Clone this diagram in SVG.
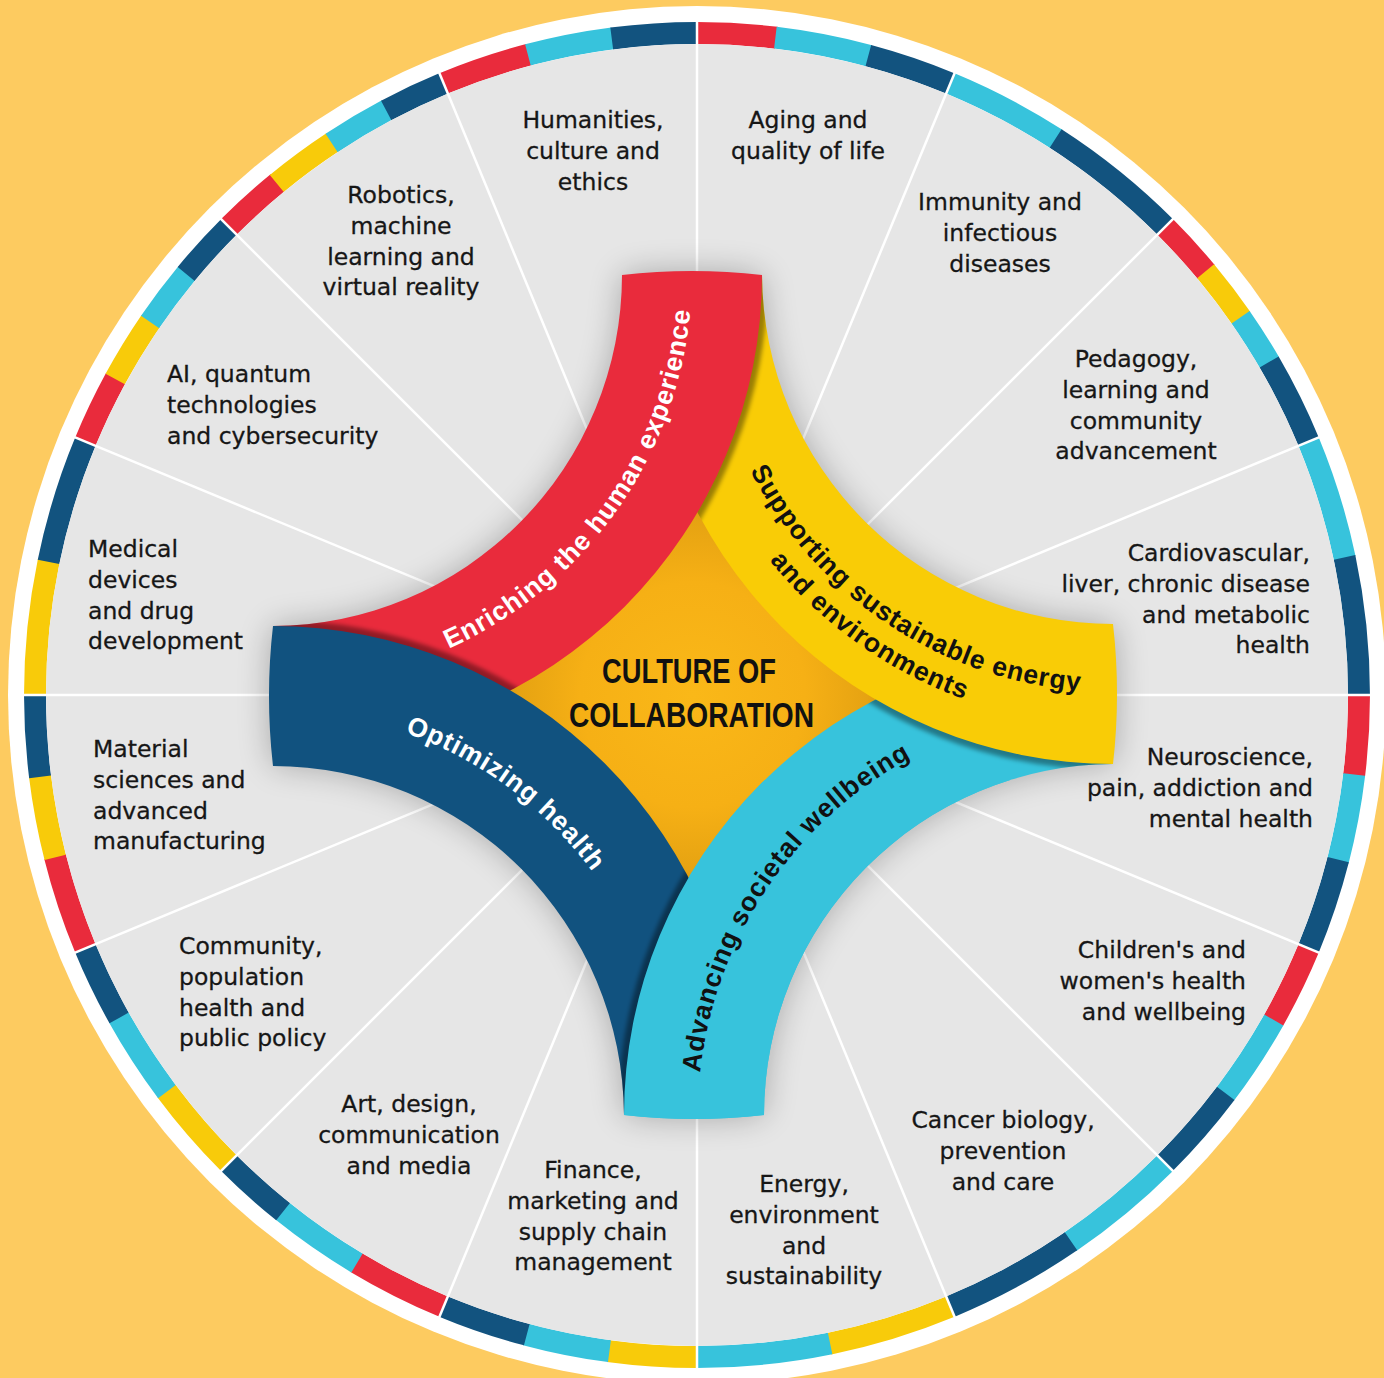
<svg xmlns="http://www.w3.org/2000/svg" width="1384" height="1378" viewBox="0 0 1384 1378">
<defs>
<style>
.lbl{font-family:"DejaVu Sans","Liberation Sans",sans-serif;font-size:23.5px;fill:#161616;stroke:#161616;stroke-width:0.3px}
.bt{font-family:"Liberation Sans",Arial,sans-serif;font-weight:bold;font-size:26.5px;letter-spacing:0.9px}
.w{fill:#ffffff}
.k{fill:#111111}
.seg{fill:none;stroke-width:22}
.r{stroke:#e92b3c}
.c{stroke:#37c3dc}
.n{stroke:#12537f}
.y{stroke:#f8cb0a}
.div line{stroke:#ffffff;stroke-width:2.5}
.title{font-family:"Liberation Sans",Arial,sans-serif;font-weight:bold;font-size:35px;fill:#111111}
.strip{fill:none;stroke:#000000;stroke-opacity:0.38;stroke-width:12}
</style>
<radialGradient id="og" cx="693" cy="695" r="205" gradientUnits="userSpaceOnUse">
<stop offset="0" stop-color="#fab818"/>
<stop offset="0.55" stop-color="#f6b015"/>
<stop offset="0.85" stop-color="#e6a312"/>
<stop offset="1" stop-color="#c98f0c"/>
</radialGradient>
<filter id="blur" x="-20%" y="-20%" width="140%" height="140%"><feGaussianBlur stdDeviation="16"/></filter>
<filter id="sblur" x="-5%" y="-5%" width="110%" height="110%"><feGaussianBlur stdDeviation="2"/></filter>
<path id="pRed" d="M622,275 A615,615 0 0 1 762,275 A469,469 0 0 1 293,744 L273,626 A351,351 0 0 0 622,275 Z"/>
<path id="pYel" d="M1113,624 A615,615 0 0 1 1113,764 A469,469 0 0 1 644,295 L762,275 A351,351 0 0 0 1113,624 Z"/>
<path id="pCya" d="M764,1115 A615,615 0 0 1 624,1115 A469,469 0 0 1 1093,646 L1113,764 A351,351 0 0 0 764,1115 Z"/>
<path id="pBlu" d="M273,766 A615,615 0 0 1 273,626 A469,469 0 0 1 742,1095 L624,1115 A351,351 0 0 0 273,766 Z"/>
<clipPath id="cRed"><path d="M622,275 A615,615 0 0 1 762,275 A469,469 0 0 1 293,744 L273,626 A351,351 0 0 0 622,275 Z"/></clipPath>
<clipPath id="cYel"><path d="M1113,624 A615,615 0 0 1 1113,764 A469,469 0 0 1 644,295 L762,275 A351,351 0 0 0 1113,624 Z"/></clipPath>
<clipPath id="cCya"><path d="M764,1115 A615,615 0 0 1 624,1115 A469,469 0 0 1 1093,646 L1113,764 A351,351 0 0 0 764,1115 Z"/></clipPath>
<clipPath id="cBlu"><path d="M273,766 A615,615 0 0 1 273,626 A469,469 0 0 1 742,1095 L624,1115 A351,351 0 0 0 273,766 Z"/></clipPath>
<clipPath id="cBot"><rect x="0" y="780" width="1384" height="600"/></clipPath>
<path id="tRed" d="M317.7,682.4 A410,410 0 0 0 679.8,174.8"/>
<path id="tYel1" d="M705.8,258 A408,408 0 0 0 1294.1,649.6"/>
<path id="tYel2" d="M674,242.5 A441,441 0 0 0 1296.5,685"/>
<path id="tCya" d="M739.6,1293.9 A406,406 0 0 1 1131.3,709.9"/>
<path id="tBlu" d="M116.1,742.4 A396,396 0 0 1 666.3,1151.9"/>
</defs>

<rect x="0" y="0" width="1384" height="1378" fill="#fdcb60"/>
<circle cx="697" cy="695" r="689" fill="#ffffff"/>

<g id="ring">
<circle class="seg r" cx="697" cy="695" r="662" stroke-dasharray="79.6 5000" transform="rotate(-90 697 695)"/>
<circle class="seg c" cx="697" cy="695" r="662" stroke-dasharray="95.7 5000" transform="rotate(-83.2 697 695)"/>
<circle class="seg n" cx="697" cy="695" r="662" stroke-dasharray="87.7 5000" transform="rotate(-75 697 695)"/>
<circle class="seg c" cx="697" cy="695" r="662" stroke-dasharray="120 5000" transform="rotate(-67.5 697 695)"/>
<circle class="seg n" cx="697" cy="695" r="662" stroke-dasharray="142 5000" transform="rotate(-57.2 697 695)"/>
<circle class="seg r" cx="697" cy="695" r="662" stroke-dasharray="61.1 5000" transform="rotate(-45 697 695)"/>
<circle class="seg y" cx="697" cy="695" r="662" stroke-dasharray="58.8 5000" transform="rotate(-39.8 697 695)"/>
<circle class="seg c" cx="697" cy="695" r="662" stroke-dasharray="54.1 5000" transform="rotate(-34.8 697 695)"/>
<circle class="seg n" cx="697" cy="695" r="662" stroke-dasharray="90 5000" transform="rotate(-30.2 697 695)"/>
<circle class="seg c" cx="697" cy="695" r="662" stroke-dasharray="122.3 5000" transform="rotate(-22.5 697 695)"/>
<circle class="seg n" cx="697" cy="695" r="662" stroke-dasharray="139.6 5000" transform="rotate(-12 697 695)"/>
<circle class="seg r" cx="697" cy="695" r="662" stroke-dasharray="80.7 5000" transform="rotate(0 697 695)"/>
<circle class="seg c" cx="697" cy="695" r="662" stroke-dasharray="87.7 5000" transform="rotate(6.9 697 695)"/>
<circle class="seg n" cx="697" cy="695" r="662" stroke-dasharray="94.6 5000" transform="rotate(14.4 697 695)"/>
<circle class="seg r" cx="697" cy="695" r="662" stroke-dasharray="80.7 5000" transform="rotate(22.5 697 695)"/>
<circle class="seg c" cx="697" cy="695" r="662" stroke-dasharray="88.8 5000" transform="rotate(29.4 697 695)"/>
<circle class="seg n" cx="697" cy="695" r="662" stroke-dasharray="93.4 5000" transform="rotate(37 697 695)"/>
<circle class="seg c" cx="697" cy="695" r="662" stroke-dasharray="123.5 5000" transform="rotate(45 697 695)"/>
<circle class="seg n" cx="697" cy="695" r="662" stroke-dasharray="138.5 5000" transform="rotate(55.6 697 695)"/>
<circle class="seg y" cx="697" cy="695" r="662" stroke-dasharray="126.9 5000" transform="rotate(67.5 697 695)"/>
<circle class="seg c" cx="697" cy="695" r="662" stroke-dasharray="135 5000" transform="rotate(78.4 697 695)"/>
<circle class="seg y" cx="697" cy="695" r="662" stroke-dasharray="88.8 5000" transform="rotate(90 697 695)"/>
<circle class="seg c" cx="697" cy="695" r="662" stroke-dasharray="85.3 5000" transform="rotate(97.6 697 695)"/>
<circle class="seg n" cx="697" cy="695" r="662" stroke-dasharray="88.8 5000" transform="rotate(104.9 697 695)"/>
<circle class="seg r" cx="697" cy="695" r="662" stroke-dasharray="98.1 5000" transform="rotate(112.5 697 695)"/>
<circle class="seg c" cx="697" cy="695" r="662" stroke-dasharray="91.1 5000" transform="rotate(120.9 697 695)"/>
<circle class="seg n" cx="697" cy="695" r="662" stroke-dasharray="73.8 5000" transform="rotate(128.7 697 695)"/>
<circle class="seg y" cx="697" cy="695" r="662" stroke-dasharray="95.7 5000" transform="rotate(135 697 695)"/>
<circle class="seg c" cx="697" cy="695" r="662" stroke-dasharray="88.8 5000" transform="rotate(143.2 697 695)"/>
<circle class="seg n" cx="697" cy="695" r="662" stroke-dasharray="78.4 5000" transform="rotate(150.8 697 695)"/>
<circle class="seg r" cx="697" cy="695" r="662" stroke-dasharray="96.9 5000" transform="rotate(157.5 697 695)"/>
<circle class="seg y" cx="697" cy="695" r="662" stroke-dasharray="83 5000" transform="rotate(165.8 697 695)"/>
<circle class="seg n" cx="697" cy="695" r="662" stroke-dasharray="83 5000" transform="rotate(172.9 697 695)"/>
<circle class="seg y" cx="697" cy="695" r="662" stroke-dasharray="135 5000" transform="rotate(180 697 695)"/>
<circle class="seg n" cx="697" cy="695" r="662" stroke-dasharray="126.9 5000" transform="rotate(191.6 697 695)"/>
<circle class="seg r" cx="697" cy="695" r="662" stroke-dasharray="70.3 5000" transform="rotate(202.5 697 695)"/>
<circle class="seg y" cx="697" cy="695" r="662" stroke-dasharray="68 5000" transform="rotate(208.5 697 695)"/>
<circle class="seg c" cx="697" cy="695" r="662" stroke-dasharray="61.1 5000" transform="rotate(214.3 697 695)"/>
<circle class="seg n" cx="697" cy="695" r="662" stroke-dasharray="64.5 5000" transform="rotate(219.5 697 695)"/>
<circle class="seg r" cx="697" cy="695" r="662" stroke-dasharray="65.7 5000" transform="rotate(225 697 695)"/>
<circle class="seg y" cx="697" cy="695" r="662" stroke-dasharray="69.2 5000" transform="rotate(230.6 697 695)"/>
<circle class="seg c" cx="697" cy="695" r="662" stroke-dasharray="64.5 5000" transform="rotate(236.5 697 695)"/>
<circle class="seg n" cx="697" cy="695" r="662" stroke-dasharray="64.5 5000" transform="rotate(242 697 695)"/>
<circle class="seg r" cx="697" cy="695" r="662" stroke-dasharray="90 5000" transform="rotate(247.5 697 695)"/>
<circle class="seg c" cx="697" cy="695" r="662" stroke-dasharray="86.5 5000" transform="rotate(255.2 697 695)"/>
<circle class="seg n" cx="697" cy="695" r="662" stroke-dasharray="86.5 5000" transform="rotate(262.6 697 695)"/>
</g>

<circle cx="697" cy="695" r="651" fill="#e6e6e6"/>

<g id="connectors" class="div">
<line x1="697" y1="695" x2="697" y2="16" transform="rotate(0 697 695)"/>
<line x1="697" y1="695" x2="697" y2="16" transform="rotate(22.5 697 695)"/>
<line x1="697" y1="695" x2="697" y2="16" transform="rotate(45 697 695)"/>
<line x1="697" y1="695" x2="697" y2="16" transform="rotate(67.5 697 695)"/>
<line x1="697" y1="695" x2="697" y2="16" transform="rotate(90 697 695)"/>
<line x1="697" y1="695" x2="697" y2="16" transform="rotate(112.5 697 695)"/>
<line x1="697" y1="695" x2="697" y2="16" transform="rotate(135 697 695)"/>
<line x1="697" y1="695" x2="697" y2="16" transform="rotate(157.5 697 695)"/>
<line x1="697" y1="695" x2="697" y2="16" transform="rotate(180 697 695)"/>
<line x1="697" y1="695" x2="697" y2="16" transform="rotate(202.5 697 695)"/>
<line x1="697" y1="695" x2="697" y2="16" transform="rotate(225 697 695)"/>
<line x1="697" y1="695" x2="697" y2="16" transform="rotate(247.5 697 695)"/>
<line x1="697" y1="695" x2="697" y2="16" transform="rotate(270 697 695)"/>
<line x1="697" y1="695" x2="697" y2="16" transform="rotate(292.5 697 695)"/>
<line x1="697" y1="695" x2="697" y2="16" transform="rotate(315 697 695)"/>
<line x1="697" y1="695" x2="697" y2="16" transform="rotate(337.5 697 695)"/>
</g>

<g id="star-shadow" filter="url(#blur)" opacity="0.26" fill="#000000">
<use href="#pRed"/><use href="#pYel"/><use href="#pCya"/><use href="#pBlu"/>
</g>

<g id="center">
<circle cx="693" cy="695" r="205" fill="url(#og)"/>
</g>

<g id="band-cyan-base">
<use href="#pCya" fill="#37c3dc"/>
<g clip-path="url(#cCya)"><circle class="strip" cx="1113" cy="295" r="469" filter="url(#sblur)"/></g>
</g>
<g id="band-yellow">
<use href="#pYel" fill="#f9cc06"/>
<g clip-path="url(#cYel)"><circle class="strip" cx="293" cy="275" r="469" filter="url(#sblur)"/></g>
</g>
<g id="band-red">
<use href="#pRed" fill="#e92b3c"/>
<g clip-path="url(#cRed)"><circle class="strip" cx="273" cy="1095" r="469" filter="url(#sblur)"/></g>
</g>
<g id="band-blue">
<use href="#pBlu" fill="#11527f"/>
<g clip-path="url(#cBlu)"><circle class="strip" cx="1093" cy="1115" r="469" filter="url(#sblur)"/></g>
</g>
<g id="band-cyan">
<use href="#pCya" fill="#37c3dc" clip-path="url(#cBot)"/>
</g>

<g id="band-labels">
<text class="bt w" text-anchor="middle"><textPath href="#tRed" startOffset="50%">Enriching the human experience</textPath></text>
<text class="bt k" text-anchor="middle"><textPath href="#tYel1" startOffset="50%">Supporting sustainable energy</textPath></text>
<text class="bt k" text-anchor="middle"><textPath href="#tYel2" startOffset="50%">and environments</textPath></text>
<text class="bt k" text-anchor="middle"><textPath href="#tCya" startOffset="50%">Advancing societal wellbeing</textPath></text>
<text class="bt w" text-anchor="middle"><textPath href="#tBlu" startOffset="50%">Optimizing health</textPath></text>
</g>

<g id="title">
<text class="title" transform="translate(689 683) scale(0.78 1)" x="0" y="0" text-anchor="middle">CULTURE OF</text>
<text class="title" transform="translate(691.5 727) scale(0.805 1)" x="0" y="0" text-anchor="middle">COLLABORATION</text>
</g>

<g id="n-humanities"><text class="lbl" x="593" y="128" text-anchor="middle"><tspan x="593">Humanities,</tspan><tspan x="593" dy="30.8">culture and</tspan><tspan x="593" dy="30.8">ethics</tspan></text></g>
<g id="n-aging"><text class="lbl" x="808" y="128" text-anchor="middle"><tspan x="808">Aging and</tspan><tspan x="808" dy="30.8">quality of life</tspan></text></g>
<g id="n-immunity"><text class="lbl" x="1000" y="210" text-anchor="middle"><tspan x="1000">Immunity and</tspan><tspan x="1000" dy="30.8">infectious</tspan><tspan x="1000" dy="30.8">diseases</tspan></text></g>
<g id="n-pedagogy"><text class="lbl" x="1136" y="367" text-anchor="middle"><tspan x="1136">Pedagogy,</tspan><tspan x="1136" dy="30.8">learning and</tspan><tspan x="1136" dy="30.8">community</tspan><tspan x="1136" dy="30.8">advancement</tspan></text></g>
<g id="n-cardio"><text class="lbl" x="1310" y="561" text-anchor="end"><tspan x="1310">Cardiovascular,</tspan><tspan x="1310" dy="30.8">liver, chronic disease</tspan><tspan x="1310" dy="30.8">and metabolic</tspan><tspan x="1310" dy="30.8">health</tspan></text></g>
<g id="n-neuro"><text class="lbl" x="1313" y="765" text-anchor="end"><tspan x="1313">Neuroscience,</tspan><tspan x="1313" dy="30.8">pain, addiction and</tspan><tspan x="1313" dy="30.8">mental health</tspan></text></g>
<g id="n-children"><text class="lbl" x="1246" y="958" text-anchor="end"><tspan x="1246">Children's and</tspan><tspan x="1246" dy="30.8">women's health</tspan><tspan x="1246" dy="30.8">and wellbeing</tspan></text></g>
<g id="n-cancer"><text class="lbl" x="1003" y="1128" text-anchor="middle"><tspan x="1003">Cancer biology,</tspan><tspan x="1003" dy="30.8">prevention</tspan><tspan x="1003" dy="30.8">and care</tspan></text></g>
<g id="n-energy"><text class="lbl" x="804" y="1192" text-anchor="middle"><tspan x="804">Energy,</tspan><tspan x="804" dy="30.8">environment</tspan><tspan x="804" dy="30.8">and</tspan><tspan x="804" dy="30.8">sustainability</tspan></text></g>
<g id="n-finance"><text class="lbl" x="593" y="1178" text-anchor="middle"><tspan x="593">Finance,</tspan><tspan x="593" dy="30.8">marketing and</tspan><tspan x="593" dy="30.8">supply chain</tspan><tspan x="593" dy="30.8">management</tspan></text></g>
<g id="n-art"><text class="lbl" x="409" y="1112" text-anchor="middle"><tspan x="409">Art, design,</tspan><tspan x="409" dy="30.8">communication</tspan><tspan x="409" dy="30.8">and media</tspan></text></g>
<g id="n-community"><text class="lbl" x="179" y="954"><tspan x="179">Community,</tspan><tspan x="179" dy="30.8">population</tspan><tspan x="179" dy="30.8">health and</tspan><tspan x="179" dy="30.8">public policy</tspan></text></g>
<g id="n-material"><text class="lbl" x="93" y="757"><tspan x="93">Material</tspan><tspan x="93" dy="30.8">sciences and</tspan><tspan x="93" dy="30.8">advanced</tspan><tspan x="93" dy="30.8">manufacturing</tspan></text></g>
<g id="n-medical"><text class="lbl" x="88" y="557"><tspan x="88">Medical</tspan><tspan x="88" dy="30.8">devices</tspan><tspan x="88" dy="30.8">and drug</tspan><tspan x="88" dy="30.8">development</tspan></text></g>
<g id="n-ai"><text class="lbl" x="167" y="382"><tspan x="167">AI, quantum</tspan><tspan x="167" dy="30.8">technologies</tspan><tspan x="167" dy="30.8">and cybersecurity</tspan></text></g>
<g id="n-robotics"><text class="lbl" x="401" y="203" text-anchor="middle"><tspan x="401">Robotics,</tspan><tspan x="401" dy="30.8">machine</tspan><tspan x="401" dy="30.8">learning and</tspan><tspan x="401" dy="30.8">virtual reality</tspan></text></g>
</svg>
